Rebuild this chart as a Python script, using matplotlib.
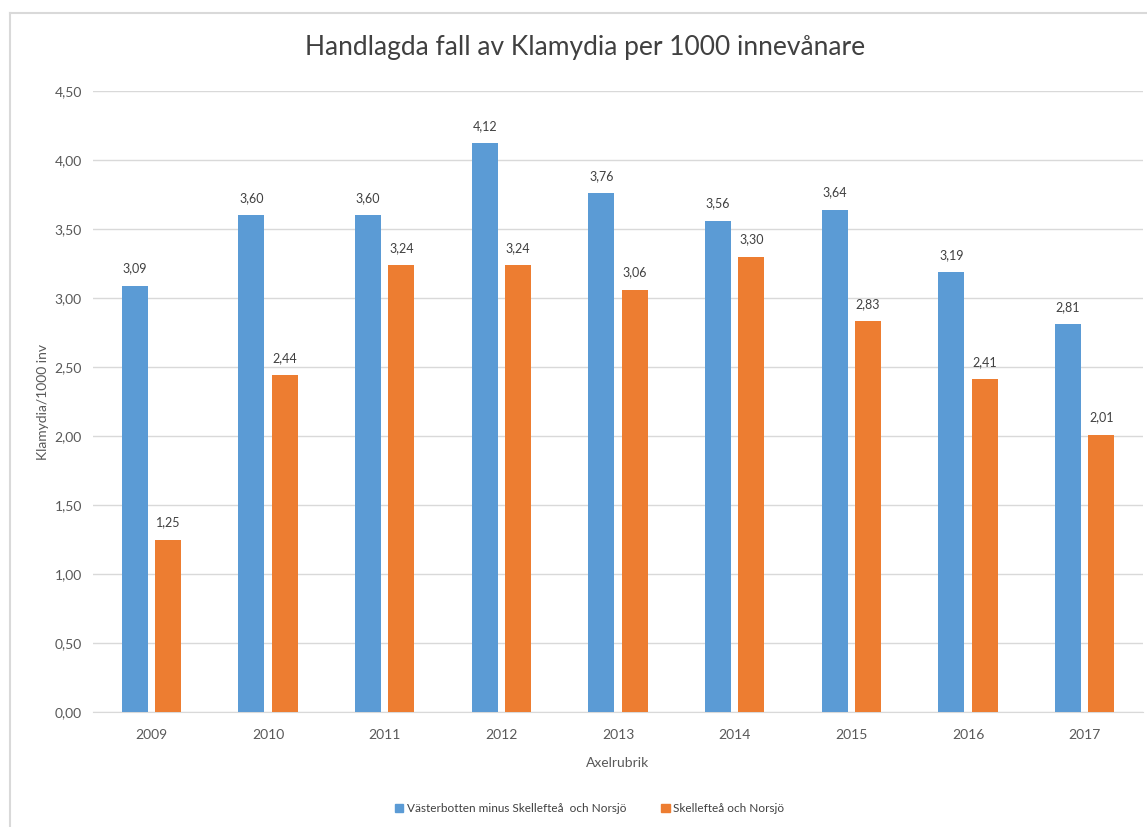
import matplotlib
matplotlib.use("Agg")
import matplotlib.pyplot as plt
import numpy as np
from matplotlib.lines import Line2D

years = ["2009", "2010", "2011", "2012", "2013", "2014", "2015", "2016", "2017"]
vasterbotten = [3.09, 3.60, 3.60, 4.12, 3.76, 3.56, 3.64, 3.19, 2.81]
skelleftea = [1.25, 2.44, 3.24, 3.24, 3.06, 3.30, 2.83, 2.41, 2.01]
series_names = ["Västerbotten minus Skellefteå  och Norsjö", "Skellefteå och Norsjö"]
yticks = [0.0, 0.5, 1.0, 1.5, 2.0, 2.5, 3.0, 3.5, 4.0, 4.5]

plt.rcParams['font.family'] = ['Lato', 'DejaVu Sans']
txt = '#595959'
blue = '#5b9bd5'
orange = '#ed7d31'

fig = plt.figure(figsize=(11.47, 8.27), dpi=100)
ax = fig.add_axes([0.0811, 0.139, 0.9154, 0.751])

x = np.arange(len(years))
w = 0.225
off = 0.143
b1 = ax.bar(x - off, vasterbotten, w, color=blue, zorder=3)
b2 = ax.bar(x + off, skelleftea, w, color=orange, zorder=3)

def fmt(v):
    return f"{v:.2f}".replace('.', ',')

for bars, vals in ((b1, vasterbotten), (b2, skelleftea)):
    for r, v in zip(bars, vals):
        ax.annotate(fmt(v), (r.get_x() + r.get_width() / 2, v), xytext=(0, 8),
                    textcoords='offset points', ha='center', va='bottom',
                    fontsize=9, color='#404040')

ax.set_xlim(-0.5, len(years) - 0.5)
ax.set_ylim(0, 4.5)
ax.set_yticks(yticks)
ax.set_yticklabels([fmt(t) for t in yticks], fontsize=10, color=txt)
ax.set_xticks(x)
ax.set_xticklabels(years, fontsize=10, color=txt)
ax.tick_params(axis='y', length=0, pad=8)
ax.tick_params(axis='x', length=0, pad=12)
ax.grid(axis='y', color='#d9d9d9', linewidth=1, zorder=0)
for s in ['top', 'right', 'left']:
    ax.spines[s].set_visible(False)
ax.spines['bottom'].set_color('#d9d9d9')

ax.set_xlabel("Axelrubrik", fontsize=10, color=txt, labelpad=12)
ax.set_ylabel("Klamydia/1000 inv", fontsize=10, color=txt, labelpad=4)

fig.text(0.51, 0.943, "Handlagda fall av Klamydia per 1000 innevånare",
         ha='center', va='center', fontsize=19, color='#404040')

handles = [plt.Rectangle((0, 0), 1, 1, color=blue), plt.Rectangle((0, 0), 1, 1, color=orange)]
fig.legend(handles, series_names, loc='center', bbox_to_anchor=(0.514, 0.022), ncol=2,
           frameon=False, fontsize=8.5, labelcolor='#404040', handlelength=0.7, handleheight=0.7,
           handletextpad=0.3, columnspacing=3)

fig.add_artist(Line2D([10/1147, 10/1147], [0, 1 - 13/827], transform=fig.transFigure,
                      color='#d9d9d9', linewidth=1.5))
fig.add_artist(Line2D([10/1147, 1], [1 - 13/827, 1 - 13/827], transform=fig.transFigure,
                      color='#d9d9d9', linewidth=1.5))

fig.savefig("out.png", dpi=100)
